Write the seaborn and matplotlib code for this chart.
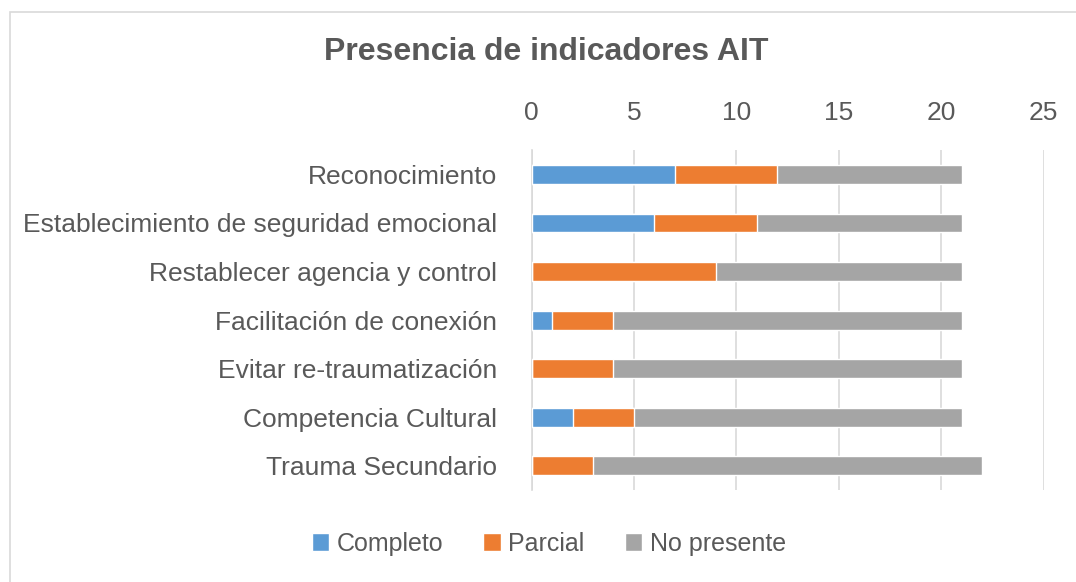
import numpy as np
import pandas as pd
import seaborn as sns
import matplotlib.pyplot as plt
from matplotlib.patches import Rectangle

# data
categories = ["Reconocimiento", "Establecimiento de seguridad emocional",
              "Restablecer agencia y control", "Facilitación de conexión",
              "Evitar re-traumatización", "Competencia Cultural", "Trauma Secundario"]
completo = [7, 6, 0, 1, 0, 2, 0]
parcial = [5, 5, 9, 3, 4, 3, 3]
no_presente = [9, 10, 12, 17, 17, 16, 19]
series_names = ["Completo", "Parcial", "No presente"]
colors = ["#5b9bd5", "#ed7d31", "#a5a5a5"]

sns.set_theme(style="white")
plt.rcParams['font.family'] = ['Liberation Sans', 'DejaVu Sans']
text_color = "#595959"

df = pd.DataFrame({"cat": categories, "Completo": completo,
                   "Parcial": parcial, "No presente": no_presente})
# cumulative ends so bars can be drawn back to front
df["c1"] = df["Completo"]
df["c2"] = df["c1"] + df["Parcial"]
df["c3"] = df["c2"] + df["No presente"]

fig = plt.figure(figsize=(10.76, 5.82), dpi=100)
ax = fig.add_axes([0.494, 0.158, 0.476, 0.584])

for col, name, color in zip(["c3", "c2", "c1"], series_names[::-1], colors[::-1]):
    sns.barplot(data=df, x=col, y="cat", orient="h", color=color, width=0.39,
                ax=ax, label=name, saturation=1, zorder=3)

handles, labels = ax.get_legend_handles_labels()
if ax.get_legend() is not None:
    ax.get_legend().remove()

ax.set_xlim(0, 25)
ax.set_xticks([0, 5, 10, 15, 20, 25])
ax.xaxis.tick_top()
ax.tick_params(axis="x", length=0, pad=18, labelsize=19, labelcolor=text_color)
ax.tick_params(axis="y", length=0, pad=25, labelsize=19, labelcolor=text_color)
ax.set_xlabel("")
ax.set_ylabel("")
ax.grid(axis="x", color="#d9d9d9", linewidth=1.2, zorder=0)
ax.set_axisbelow(True)
for s in ["top", "right", "bottom"]:
    ax.spines[s].set_visible(False)
ax.spines["left"].set_color("#d9d9d9")
ax.spines["left"].set_linewidth(1.2)

fig.suptitle("Presencia de indicadores AIT", x=0.508, y=0.91, va="center",
             fontsize=23, fontweight="bold", color=text_color)

order = [labels.index(n) for n in series_names]
fig.legend([handles[i] for i in order], series_names, loc="center", ncol=3,
           bbox_to_anchor=(0.51, 0.066), frameon=False, fontsize=18,
           handlelength=0.7, handleheight=0.7, handletextpad=0.3,
           columnspacing=1.6, labelcolor=text_color)

fig.patches.append(Rectangle((0.009, -0.02), 1.2, 1.0, transform=fig.transFigure,
                             fill=False, edgecolor="#d9d9d9", linewidth=1.2))

plt.savefig("out.png", dpi=100)
